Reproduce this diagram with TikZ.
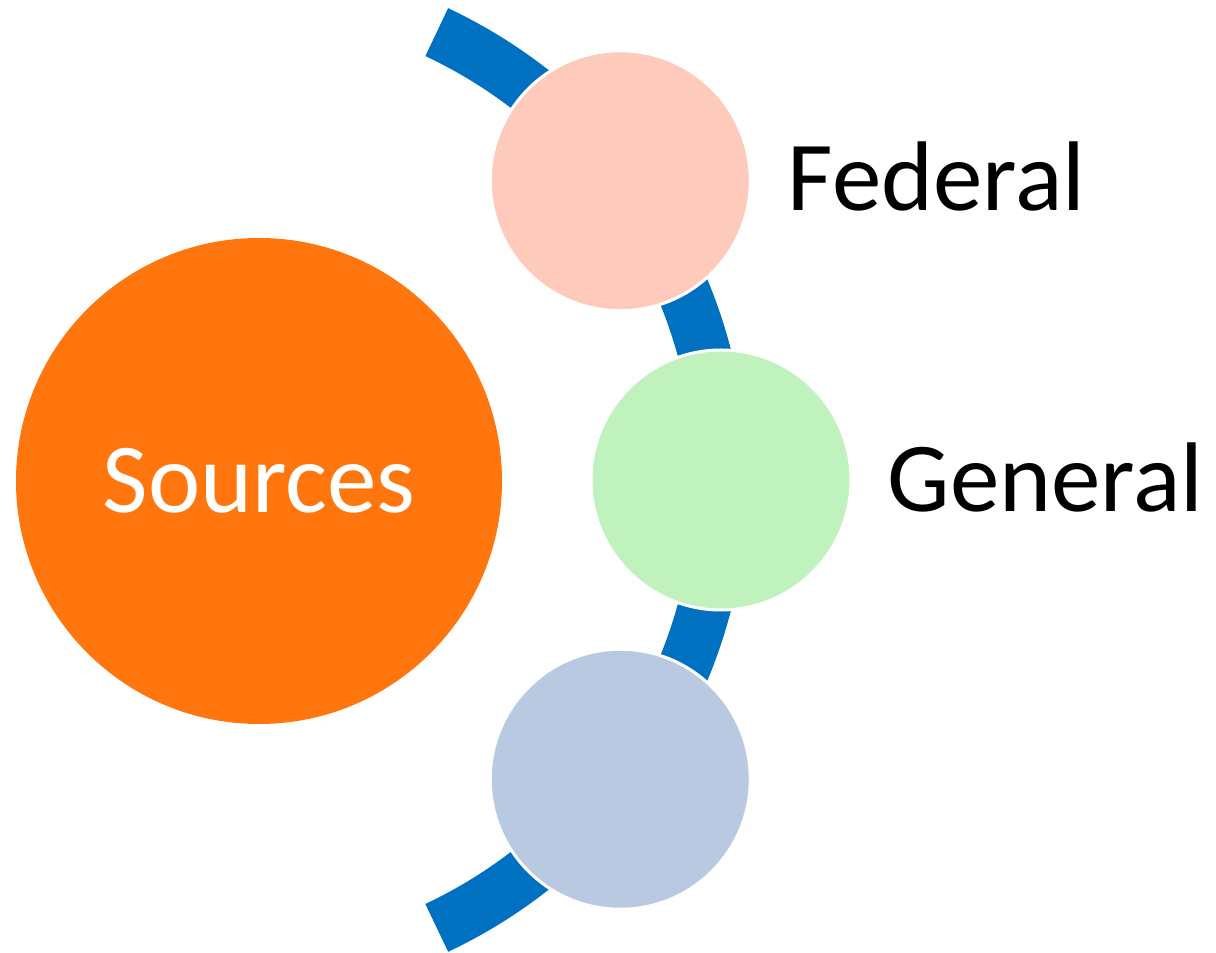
\documentclass[tikz,border=0pt]{standalone}
\usepackage{fontspec}
\setmainfont{Carlito}
\usetikzlibrary{positioning}
\definecolor{srcorange}{RGB}{255,118,14}
\definecolor{arcblue}{RGB}{0,112,192}
\definecolor{fedpeach}{RGB}{254,202,188}
\definecolor{genmint}{RGB}{192,242,190}
\definecolor{lowblue}{RGB}{186,201,226}
\tikzset{
  bubble/.style={circle,draw=white,line width=3pt,minimum size=260pt,inner sep=0pt},
  bigtext/.style={font=\fontsize{99}{115}\selectfont,inner sep=0pt}
}
\begin{document}
\begin{tikzpicture}[x=1pt,y=1pt]
            \useasboundingbox (0,0) rectangle (1216,953);
            \coordinate (hub) at (226,473);
            \draw[arcblue,line width=53pt] ([shift={(64.8:495)}]hub) arc[start angle=64.8,end angle=-64.8,radius=495];
            \node[circle,fill=srcorange,minimum size=486pt,inner sep=0pt,bigtext,text=white] (src) at (259,472) {Sources};
            \foreach \ang/\col/\nm in {37.2/fedpeach/fed, 0/genmint/gen, -37.2/lowblue/low}
            {
                \node[bubble,fill=\col] (\nm) at ([shift={(\ang:495)}]hub) {};
            }
            \node[bigtext,right=36pt of fed,yshift=4pt] (fedlbl) {Federal};
            \node[bigtext,right=35pt of gen,yshift=3pt] (genlbl) {General};
\end{tikzpicture}
\end{document}
